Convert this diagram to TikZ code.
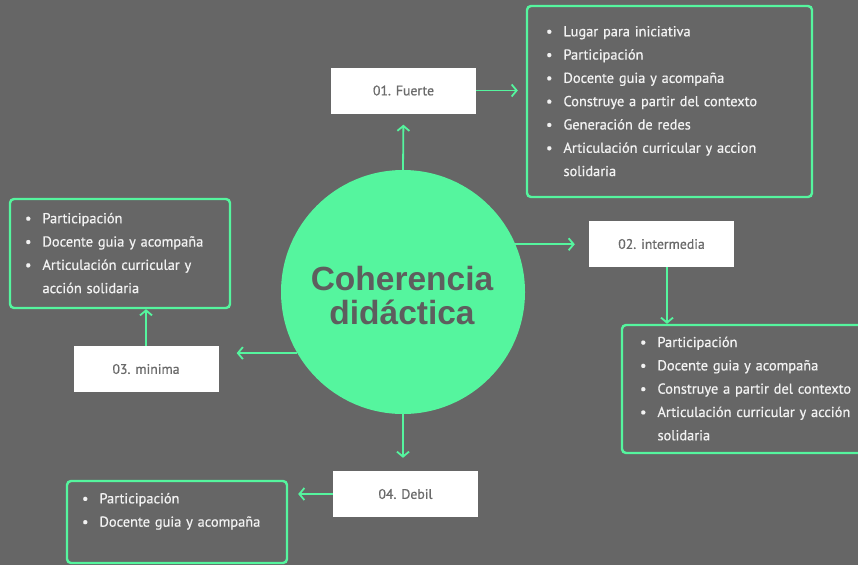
\documentclass[tikz,border=0pt]{standalone}
\usepackage{fontspec}
\setmainfont{PT Sans}
\newfontfamily\titulofont{Liberation Sans}
\newfontfamily\listafont[FakeBold=0.6]{PT Sans}
\usetikzlibrary{arrows.meta}

\definecolor{fondo}{HTML}{666666}
\definecolor{verde}{HTML}{55F59E}
\definecolor{grisnivel}{HTML}{6A6A6A}
\definecolor{gristitulo}{HTML}{5E5E5E}

\tikzset{
 flecha/.style={verde, line width=1.8pt, -{Straight Barb[length=5pt,width=12pt]}},
 nivel/.style={fill=white, minimum width=145pt, minimum height=46pt, inner sep=0pt,
  text=grisnivel, font=\listafont\fontsize{13.8}{15}\selectfont},
 lista/.style={draw=verde, line width=2.4pt, rounded corners=4pt, text=white!95!black,
  align=left, inner ysep=0pt, font=\listafont\fontsize{14.4}{23.3}\selectfont}
}
\newcommand{\punto}{\textbullet}

\begin{document}
\begin{tikzpicture}[x=1pt,y=-1pt]
 \fill[fondo] (0,0) rectangle (858,565);
 \clip (0,0) rectangle (858,565);

 % centro
 \node[circle, fill=verde, minimum size=244pt, inner sep=0pt] (centro) at (403,292) {};
 \node[text=gristitulo, align=center, font=\titulofont\fontsize{33.5}{34}\selectfont\bfseries] (titulo) at (402,296) {Coherencia\\didáctica};

 % niveles
 \node[nivel] (fuerte) at (403.5,90.5) {01. Fuerte};
 \node[nivel] (intermedia) at (661.5,244) {02. intermedia};
 \node[nivel] (minima) at (146,369) {03. minima};
 \node[nivel] (debil) at (405.5,494) {04. Debil};

 % listas
 \node[lista, text width=247pt, inner xsep=19pt, minimum height=191pt] (lfuerte) at (669.5,101.5) {%
  \begin{tabular}{@{}l@{\hspace{11pt}}l@{}}
   \punto & Lugar para iniciativa\\
   \punto & Participación\\
   \punto & Docente guia y acompaña\\
   \punto & Construye a partir del contexto\\
   \punto & Generación de redes\\
   \punto & Articulación curricular y accion\\
          & solidaria
  \end{tabular}};
 \node[lista, text width=226pt, inner xsep=18pt, minimum height=128pt] (lintermedia) at (753,389) {%
  \begin{tabular}{@{}l@{\hspace{11pt}}l@{}}
   \punto & Participación\\
   \punto & Docente guia y acompaña\\
   \punto & Construye a partir del contexto\\
   \punto & Articulación curricular y acción\\
          & solidaria
  \end{tabular}};
 \node[lista, text width=190pt, inner xsep=15pt, minimum height=109pt] (lminima) at (120,253.5) {%
  \begin{tabular}{@{}l@{\hspace{11pt}}l@{}}
   \punto & Participación\\
   \punto & Docente guia y acompaña\\
   \punto & Articulación curricular y\\
          & acción solidaria
  \end{tabular}};
 \node[lista, text width=190pt, inner xsep=15pt, minimum height=82pt] (ldebil) at (177,522) {%
  \begin{tabular}{@{}l@{\hspace{11pt}}l@{}}
   \punto & Participación\\
   \punto & Docente guia y acompaña\\
          &
  \end{tabular}};

 % flechas
 \draw[flecha, shorten >=11pt] (centro.north) -- (fuerte.south);
 \draw[flecha, shorten >=8pt] (fuerte.east) -- (fuerte.east -| lfuerte.west);
 \draw[flecha, shorten >=14pt] (centro.23.7) -- (centro.23.7 -| intermedia.west);
 \draw[flecha] ([xshift=5.5pt]intermedia.south) -- ([xshift=5.5pt]intermedia.south |- lintermedia.north);
 \draw[flecha, shorten >=18pt] (centro.210) -- (centro.210 -| minima.east);
 \draw[flecha] (minima.north) -- (minima.north |- lminima.south);
 \draw[flecha, shorten >=13pt] (centro.south) -- (centro.south |- debil.north);
 \draw[flecha, shorten >=10pt] (debil.west) -- (debil.west -| ldebil.east);
\end{tikzpicture}
\end{document}
